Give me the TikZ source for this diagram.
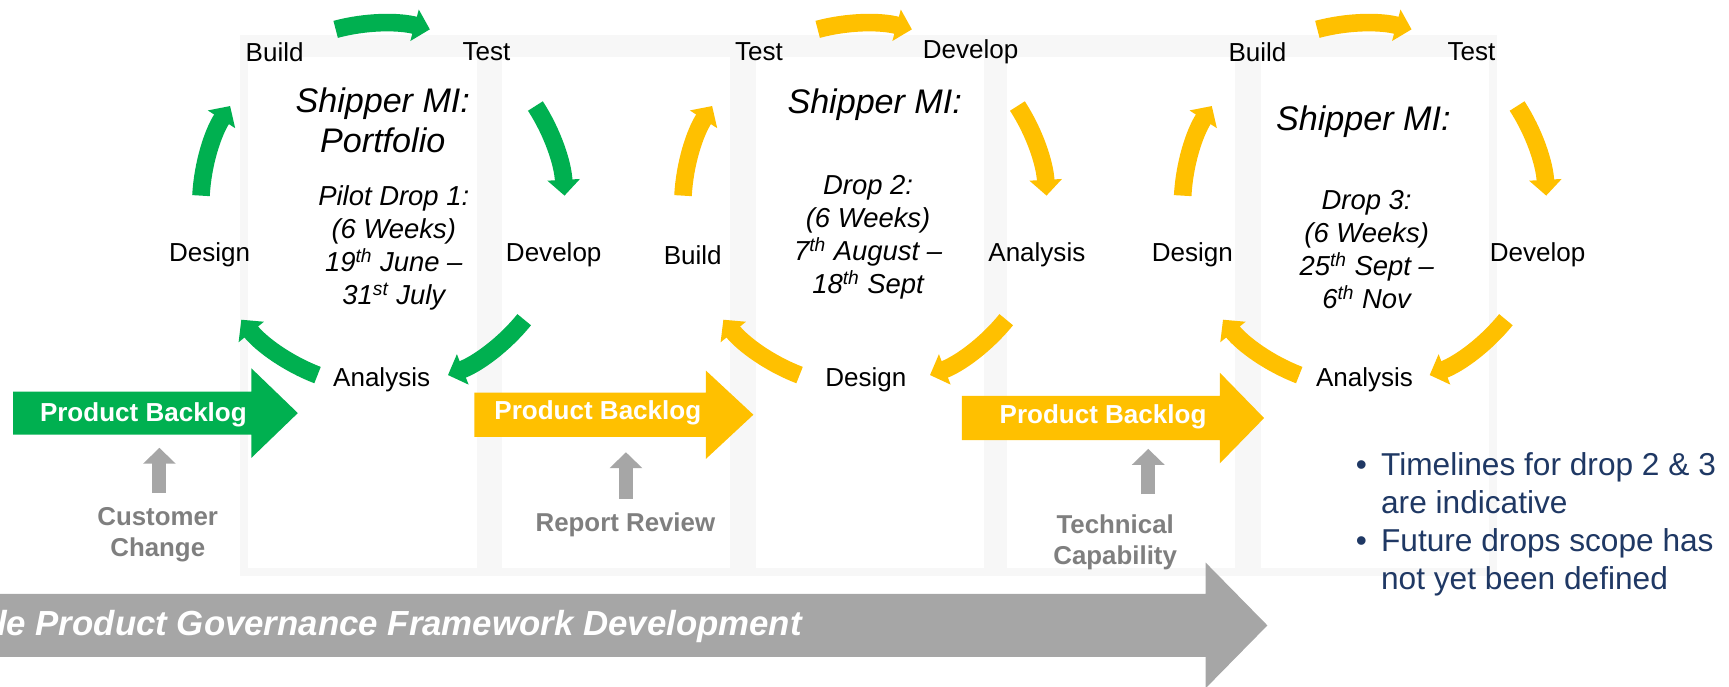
\documentclass[tikz,border=0pt]{standalone}
\usepackage{fontspec}
\setmainfont{Liberation Sans}
\usetikzlibrary{arrows.meta}
\definecolor{grn}{HTML}{00B050}
\definecolor{ylw}{HTML}{FFC000}
\definecolor{arrgray}{HTML}{A6A6A6}
\definecolor{txtgray}{HTML}{7F7F7F}
\definecolor{navy}{RGB}{31,56,100}
\begin{document}
\begin{tikzpicture}[
    x=0.02205cm, y=-0.02205cm,
    stage/.style={font=\fontsize{14.8}{17}\selectfont, inner sep=0pt},
    shipper/.style={font=\fontsize{19.4}{22.5}\selectfont\itshape, align=center, inner sep=0pt},
    dropinfo/.style={font=\fontsize{15.6}{18.8}\selectfont\itshape, align=center, inner sep=0pt},
    cyc/.style={line width=10pt, -{Triangle[width=18pt,length=9pt]}},
    backlog/.style={font=\fontsize{14.8}{17}\selectfont\bfseries, text=white, inner sep=0pt},
    source/.style={font=\fontsize{14.7}{17.5}\selectfont\bfseries, text=txtgray, align=center, inner sep=0pt},
    uparrow/.style={arrgray, line width=8pt, -{Triangle[width=18pt,length=9pt]}},
    panel/.style={fill=white}
  ]
  \useasboundingbox (0,0) rectangle (1567.5,622.8);

  % faint panels behind the drops
  \fill[black!3] (218,32) rectangle (1357,522);
  \foreach \px in {225,455,685,913,1143}
    \fill[panel] (\px,52) rectangle ++(207,463);

  % drop 1
  \coordinate (c1) at (347,186);
  \foreach \a in {-162,-90,-18,54,126}
    \draw[cyc, grn] ([shift={(\a-15:165)}]c1) arc[start angle=\a-15, end angle=\a+15, radius=165];
  \node[stage] (bld1) at (249,47) {Build};
  \node[stage] (tst1) at (441,47) {Test};
  \node[stage] (dsg1) at (190,231) {Design};
  \node[stage] (dev1) at (502,231) {Develop};
  \node[stage] (ana1) at (346,344) {Analysis};
  \node[shipper] (ship1) at (347,109) {Shipper MI:\\Portfolio};
  \node[dropinfo] (drop1) at (357,225) {Pilot Drop 1:\\(6 Weeks)\\19\textsuperscript{th} June --\\31\textsuperscript{st} July};

  % drop 2
  \coordinate (c2) at (784,186);
  \foreach \a in {-162,-90,-18,54,126}
    \draw[cyc, ylw] ([shift={(\a-15:165)}]c2) arc[start angle=\a-15, end angle=\a+15, radius=165];
  \node[stage] (tst2) at (688,47) {Test};
  \node[stage] (dev2) at (880,47) {Develop};
  \node[stage] (bld2) at (628,231) {Build};
  \node[stage] (ana2) at (940,231) {Analysis};
  \node[stage] (dsg2) at (785,344) {Design};
  \node[shipper] (ship2) at (793,95) {Shipper MI:};
  \node[dropinfo] (drop2) at (787,215) {Drop 2:\\(6 Weeks)\\7\textsuperscript{th} August --\\18\textsuperscript{th} Sept};

  % drop 3
  \coordinate (c3) at (1237,186);
  \foreach \a in {-162,-90,-18,54,126}
    \draw[cyc, ylw] ([shift={(\a-15:165)}]c3) arc[start angle=\a-15, end angle=\a+15, radius=165];
  \node[stage] (bld3) at (1140,47) {Build};
  \node[stage] (tst3) at (1334,47) {Test};
  \node[stage] (dsg3) at (1081,231) {Design};
  \node[stage] (dev3) at (1394,231) {Develop};
  \node[stage] (ana3) at (1237,344) {Analysis};
  \node[shipper] (ship3) at (1236,110) {Shipper MI:};
  \node[dropinfo] (drop3) at (1239,226) {Drop 3:\\(6 Weeks)\\25\textsuperscript{th} Sept --\\6\textsuperscript{th} Nov};

  % backlog arrows
  \fill[grn] (12,355) -- (228,355) -- (228,334) -- (270,374.5) -- (228,415) -- (228,394) -- (12,394) -- cycle;
  \fill[ylw] (430,356) -- (640,356) -- (640,336) -- (683,376) -- (640,416) -- (640,396) -- (430,396) -- cycle;
  \fill[ylw] (872,359) -- (1106,359) -- (1106,338) -- (1146,379) -- (1106,420) -- (1106,399) -- (872,399) -- cycle;
  \node[backlog] (pb1) at (130,376) {Product Backlog};
  \node[backlog] (pb2) at (542,374) {Product Backlog};
  \node[backlog] (pb3) at (1000,378) {Product Backlog};

  % inputs into the backlog
  \node[source] (cust) at (143,485) {Customer\\Change};
  \node[source] (rev) at (567,476) {Report Review};
  \node[source] (tech) at (1011,492) {Technical\\Capability};
  \coordinate (u1a) at (144.5,447); \coordinate (u1b) at (144.5,406);
  \coordinate (u2a) at (567.5,452); \coordinate (u2b) at (567.5,410);
  \coordinate (u3a) at (1041,448);  \coordinate (u3b) at (1041,407);
  \draw[uparrow] (u1a) -- (u1b);
  \draw[uparrow] (u2a) -- (u2b);
  \draw[uparrow] (u3a) -- (u3b);

  % governance arrow
  \fill[arrgray] (-5,538.5) -- (1093,538.5) -- (1093,510) -- (1149,567) -- (1093,624) -- (1093,595.6) -- (-5,595.6) -- cycle;
  \node[anchor=west, inner sep=0pt, text=white, font=\fontsize{19.8}{23}\selectfont\bfseries\itshape] (gov) at (-3,568) {le Product Governance Framework Development};

  % notes
  \node[anchor=base west, inner sep=0pt, text=navy, font=\fontsize{18}{21.7}\selectfont] (notes) at (1229,431)
    {\begin{tabular}[t]{@{}l@{\hspace{8pt}}l@{}}
      \textbullet & Timelines for drop 2 \& 3\\
                  & are indicative\\
      \textbullet & Future drops scope has\\
                  & not yet been defined
    \end{tabular}};
\end{tikzpicture}
\end{document}
